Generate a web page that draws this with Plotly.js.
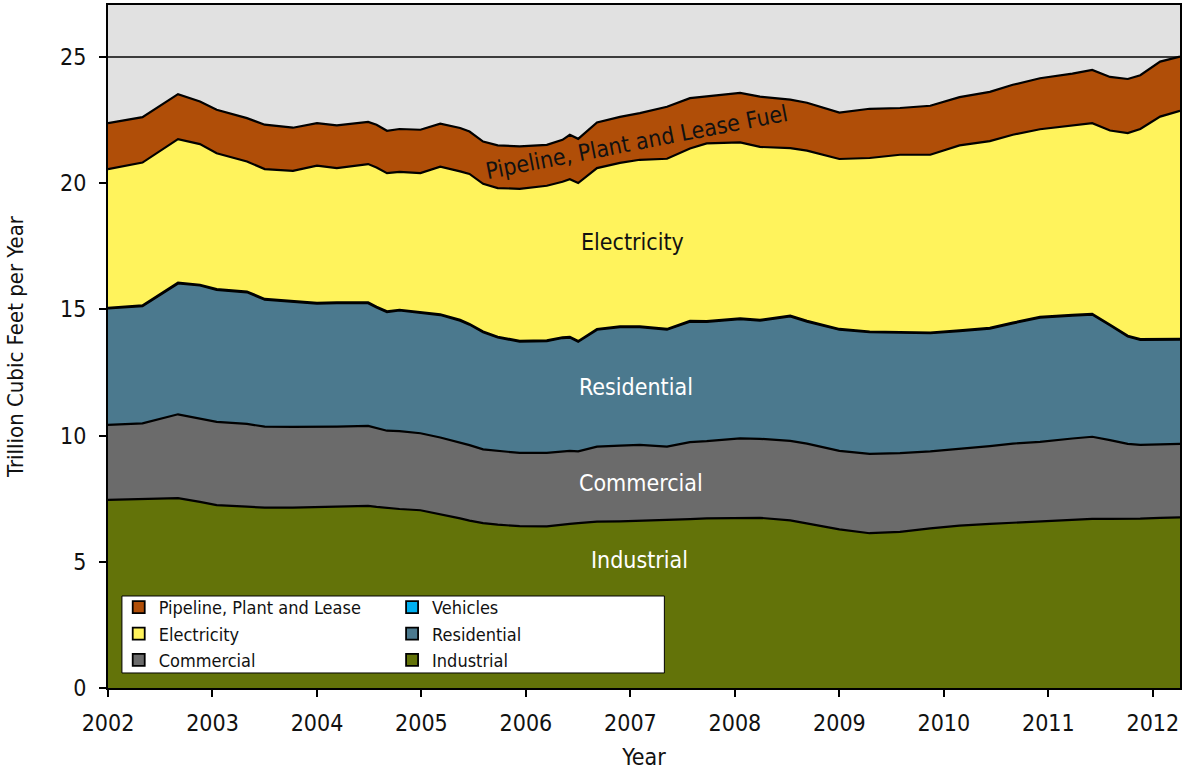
<!DOCTYPE html>
<html>
<head>
<meta charset="utf-8">
<script src="https://cdn.plot.ly/plotly-3.0.1.min.js"></script>
<style>
html,body{margin:0;padding:0;background:#fff;}
#chart{width:1184px;height:772px;}
</style>
</head>
<body>
<div id="chart"></div>
<script>
// ---- data (Trillion Cubic Feet per Year, 12-month running totals) ----
var years = [2002.00,2002.33,2002.67,2002.88,2003.04,2003.33,2003.50,2003.77,2004.00,2004.19,
             2004.49,2004.57,2004.67,2004.79,2004.99,2005.18,2005.37,2005.46,2005.59,2005.73,
             2005.94,2006.20,2006.35,2006.42,2006.50,2006.68,2006.90,2007.09,2007.35,2007.57,
             2007.73,2008.05,2008.24,2008.53,2008.69,2009.00,2009.29,2009.58,2009.87,2010.15,
             2010.44,2010.66,2010.92,2011.23,2011.42,2011.59,2011.76,2011.88,2012.07,2012.26];

var industrial = [7.45,7.49,7.52,7.37,7.24,7.18,7.14,7.14,7.16,7.18,
                  7.21,7.17,7.13,7.09,7.04,6.89,6.72,6.63,6.53,6.47,
                  6.41,6.40,6.48,6.50,6.53,6.59,6.60,6.62,6.65,6.69,
                  6.72,6.75,6.74,6.64,6.51,6.28,6.13,6.18,6.32,6.43,
                  6.50,6.54,6.58,6.66,6.70,6.70,6.70,6.71,6.74,6.76];

var commercial = [2.97,2.99,3.32,3.30,3.30,3.28,3.21,3.20,3.17,3.17,
                  3.17,3.12,3.06,3.08,3.05,3.03,3.00,2.99,2.92,2.92,
                  2.90,2.91,2.90,2.89,2.84,2.97,3.00,3.01,2.91,3.05,
                  3.06,3.14,3.13,3.15,3.17,3.11,3.14,3.12,3.05,3.03,
                  3.08,3.14,3.17,3.22,3.25,3.12,2.97,2.92,2.91,2.91];

var residential = [4.61,4.64,5.18,5.27,5.23,5.21,5.03,4.94,4.89,4.89,
                   4.86,4.78,4.70,4.78,4.78,4.85,4.83,4.77,4.64,4.49,
                   4.41,4.43,4.48,4.49,4.34,4.63,4.69,4.66,4.63,4.77,
                   4.72,4.72,4.68,4.93,4.83,4.80,4.82,4.77,4.68,4.67,
                   4.65,4.76,4.92,4.87,4.84,4.54,4.25,4.16,4.13,4.13];

var vehicles = [0.03,0.03,0.03,0.03,0.03,0.03,0.03,0.03,0.03,0.03,
                0.03,0.03,0.03,0.03,0.03,0.03,0.03,0.03,0.03,0.03,
                0.03,0.03,0.03,0.03,0.03,0.03,0.03,0.03,0.03,0.03,
                0.03,0.03,0.03,0.03,0.03,0.03,0.03,0.03,0.03,0.03,
                0.03,0.03,0.03,0.03,0.03,0.03,0.03,0.03,0.03,0.03];

var electricity = [5.49,5.66,5.69,5.57,5.38,5.15,5.14,5.17,5.44,5.32,
                   5.48,5.51,5.47,5.46,5.49,5.85,5.88,5.94,5.85,5.89,
                   6.02,6.12,6.16,6.24,6.26,6.37,6.48,6.60,6.74,6.83,
                   7.04,6.97,6.85,6.63,6.74,6.73,6.87,7.02,7.04,7.33,
                   7.40,7.44,7.43,7.49,7.55,7.69,8.03,8.32,8.82,9.03];

var pipeline = [1.82,1.80,1.78,1.69,1.72,1.72,1.76,1.71,1.68,1.69,
                1.67,1.70,1.68,1.70,1.72,1.70,1.72,1.68,1.67,1.69,
                1.68,1.62,1.66,1.76,1.75,1.81,1.82,1.85,2.06,1.99,
                1.86,1.96,1.99,1.92,1.90,1.84,1.95,1.85,1.94,1.91,
                1.95,1.98,2.02,2.06,2.11,2.12,2.14,2.13,2.18,2.15];

var seriesNames = ['Industrial','Commercial','Residential','Vehicles','Electricity','Pipeline, Plant and Lease'];
var seriesData = [industrial, commercial, residential, vehicles, electricity, pipeline];
var seriesColors = ['#637309','#6b6b6b','#4b798e','#00b0f0','#fff35c','#b04e08'];

var xTicks = [2002,2003,2004,2005,2006,2007,2008,2009,2010,2011,2012];
var yTicks = [0,5,10,15,20,25];

// in-chart labels
var bandLabels = ['Industrial','Commercial','Residential','Electricity','Pipeline, Plant and Lease Fuel'];
var bandLabelX = [2007.09, 2007.10, 2007.05, 2007.02, 2007.06];
var bandLabelY = [5.07, 8.12, 11.93, 17.67, 21.63];
var bandLabelColor = ['#ffffff','#ffffff','#ffffff','#111111','#111111'];
var bandLabelAngle = [0,0,0,0,-11];

// legend layout: column 1 / column 2
var legend1Items = ['Pipeline, Plant and Lease','Electricity','Commercial'];
var legend2Items = ['Vehicles','Residential','Industrial'];

var FONT = "'Liberation Sans Narrow','Arial Narrow','DejaVu Sans Condensed',sans-serif";

var traces = [];
for (var i = 0; i < seriesNames.length; i++) {
  traces.push({
    type: 'scatter',
    mode: 'lines',
    x: years,
    y: seriesData[i],
    name: seriesNames[i],
    stackgroup: 'gas',
    fill: 'tonexty',
    fillcolor: seriesColors[i],
    line: {color: '#000000', width: 2.2, shape: 'linear'},
    showlegend: false,
    hoverinfo: 'x+y+name'
  });
}
function addLegendItem(name, legendId) {
  var idx = seriesNames.indexOf(name);
  traces.push({
    type: 'scatter',
    mode: 'markers',
    x: [null], y: [null],
    name: name,
    legend: legendId,
    showlegend: true,
    marker: {symbol: 'square', size: 12, color: seriesColors[idx], line: {color: '#000', width: 1.8}},
    hoverinfo: 'skip'
  });
}
legend1Items.forEach(function(n){ addLegendItem(n, 'legend'); });
legend2Items.forEach(function(n){ addLegendItem(n, 'legend2'); });

var annotations = [];
for (var j = 0; j < bandLabels.length; j++) {
  annotations.push({
    x: bandLabelX[j], y: bandLabelY[j], xref: 'x', yref: 'y',
    text: bandLabels[j], showarrow: false, textangle: bandLabelAngle[j],
    font: {family: FONT, size: 23, color: bandLabelColor[j]}
  });
}

var legendCommon = {
  xanchor: 'left', yanchor: 'top',
  bgcolor: 'rgba(0,0,0,0)', borderwidth: 0,
  font: {family: FONT, size: 18, color: '#111'},
  traceorder: 'normal', tracegroupgap: 0, itemwidth: 30
};

var layout = {
  width: 1184, height: 772,
  margin: {l: 108, r: 4, t: 5, b: 84, pad: 0},
  paper_bgcolor: '#ffffff',
  plot_bgcolor: '#e1e1e1',
  font: {family: FONT, size: 22, color: '#111'},
  showlegend: true,
  legend: Object.assign({x: 0.010, y: 0.145}, legendCommon),
  legend2: Object.assign({x: 0.265, y: 0.145}, legendCommon),
  xaxis: {
    range: [2002, 2012.26],
    tickvals: xTicks, ticktext: xTicks.map(String),
    ticks: 'outside', ticklen: 7, tickwidth: 2, tickcolor: '#000',
    showline: true, linecolor: '#000', linewidth: 2, mirror: true,
    showgrid: false, zeroline: false,
    ticklabelstandoff: 6,
    tickfont: {family: FONT, size: 23, color: '#111'},
    title: {text: 'Year', font: {family: FONT, size: 23, color: '#111'}, standoff: 14}
  },
  yaxis: {
    range: [0, 27.05],
    tickvals: yTicks,
    ticks: 'outside', ticklen: 7, tickwidth: 2, tickcolor: '#000',
    showline: true, linecolor: '#000', linewidth: 2, mirror: true,
    showgrid: true, gridcolor: '#3c3c3c', gridwidth: 1.5,
    zeroline: false,
    ticklabelstandoff: 8,
    tickfont: {family: FONT, size: 23, color: '#111'},
    title: {text: 'Trillion Cubic Feet per Year', font: {family: FONT, size: 22, color: '#111'}, standoff: 30}
  },
  annotations: annotations,
  shapes: [{
    type: 'rect', xref: 'paper', yref: 'paper',
    x0: 0.013, x1: 0.519, y0: 0.022, y1: 0.1347,
    fillcolor: '#ffffff', line: {color: '#000', width: 1}, layer: 'above'
  }]
};

Plotly.newPlot('chart', traces, layout, {displayModeBar: false, staticPlot: true});
</script>
</body>
</html>
